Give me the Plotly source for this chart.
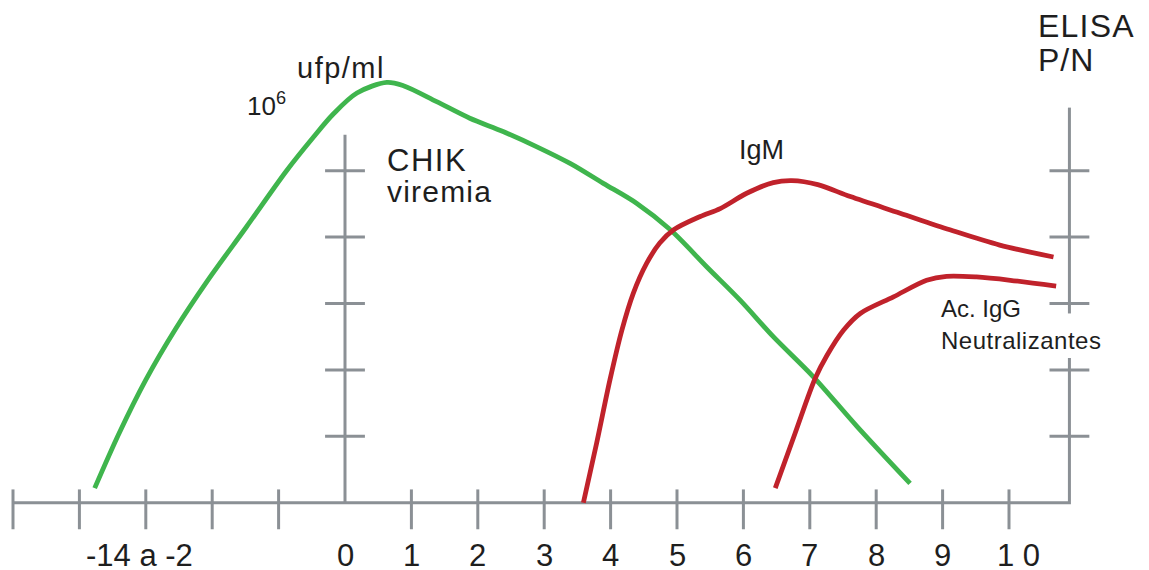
import plotly.graph_objects as go

# ---------------- data ----------------
viremia_x = [-3.77, -3.40, -3.00, -2.55, -2.08, -1.48, -0.88, -0.48, -0.18, 0.18, 0.63, 0.88,
             1.38, 1.88, 2.38, 2.89, 3.39, 3.89, 4.39, 4.90, 5.45, 5.95, 6.45, 7.05, 7.71, 8.51]
viremia_y = [0.22, 1.05, 1.85, 2.62, 3.33, 4.16, 5.00, 5.50, 5.85, 6.17, 6.33, 6.28,
             6.04, 5.79, 5.59, 5.36, 5.11, 4.81, 4.51, 4.11, 3.55, 3.05, 2.50, 1.90, 1.15, 0.29]

igm_x = [3.59, 3.79, 3.99, 4.17, 4.34, 4.54, 4.74, 4.95, 5.35, 5.65, 6.05, 6.45, 6.73,
         7.12, 7.61, 8.36, 9.11, 9.86, 10.67]
igm_y = [0.00, 0.90, 1.85, 2.60, 3.15, 3.60, 3.91, 4.11, 4.31, 4.43, 4.66, 4.82, 4.85,
         4.79, 4.61, 4.36, 4.11, 3.88, 3.70]

igg_x = [6.48, 6.78, 7.08, 7.26, 7.51, 7.76, 8.26, 8.76, 9.06, 9.51, 10.02, 10.71]
igg_y = [0.22, 1.05, 1.87, 2.22, 2.60, 2.85, 3.10, 3.35, 3.41, 3.40, 3.35, 3.26]

x_ticks = [-5, -4, -3, -2, -1, 1, 2, 3, 4, 5, 6, 7, 8, 9, 10]
x_tick_labels = ["-14 a -2", "0", "1", "2", "3", "4", "5", "6", "7", "8", "9", "1 0"]
x_tick_label_pos = [-3.1, 0, 1, 2, 3, 4, 5, 6, 7, 8, 9, 10.15]
y_ticks = [1, 2, 3, 4, 5]

# ---------------- styling / geometry ----------------
GRAY = "#8b9095"
GREEN = "#3fb54d"
RED = "#c0222b"
TXT = "#1e1e1e"
FONT = "Liberation Sans, Arial, sans-serif"

X_MIN, X_END = -5.0, 10.91
LEFT_TOP, RIGHT_TOP = 5.54, 5.95
GAP_LO, GAP_HI = 2.18, 2.85
TICK_UP, TICK_DN, TICK_HALF = 0.20, 0.40, 0.30

# page offset of the plot inside the browser window (body margin)
PAGE_OFF = 8
PX_PER_UNIT = 66.4
X0_PX, Y0_PX = 345.0, 502.7
W, H = 1149, 570

fig = go.Figure()

# axes frame built from the tick arrays
ax_x, ax_y = [], []
ax_x += [X_MIN, X_END, X_END, None]; ax_y += [0, 0, GAP_LO, None]
ax_x += [X_END, X_END, None];        ax_y += [GAP_HI, RIGHT_TOP, None]
ax_x += [0, 0, None];                ax_y += [0, LEFT_TOP, None]
for t in x_ticks:
    ax_x += [t, t, None]; ax_y += [TICK_UP, -TICK_DN, None]
for v in y_ticks:
    ax_x += [-TICK_HALF, TICK_HALF, None]; ax_y += [v, v, None]
    ax_x += [X_END - TICK_HALF, X_END + TICK_HALF, None]; ax_y += [v, v, None]

fig.add_trace(go.Scatter(x=ax_x, y=ax_y, mode="lines",
                         line=dict(color=GRAY, width=3), hoverinfo="skip",
                         showlegend=False))

for xs, ys, col in [(viremia_x, viremia_y, GREEN), (igm_x, igm_y, RED), (igg_x, igg_y, RED)]:
    fig.add_trace(go.Scatter(x=xs, y=ys, mode="lines",
                             line=dict(color=col, width=4.8, shape="spline", smoothing=0.9),
                             showlegend=False, hoverinfo="skip"))

annotations = []
for lab, pos in zip(x_tick_labels, x_tick_label_pos):
    annotations.append(dict(x=pos, y=-0.80, text=lab, xanchor="center", yanchor="middle",
                            showarrow=False, font=dict(size=31, color=TXT, family=FONT)))

def label(text, x, y, size, spacing=0):
    if spacing:
        text = '<span style="letter-spacing:%spx">%s</span>' % (spacing, text)
    annotations.append(dict(x=x, y=y, text=text, xanchor="left", yanchor="middle",
                            showarrow=False, font=dict(size=size, color=TXT, family=FONT)))

label("ufp/ml", -0.76, 6.55, 29, 1.5)
label("10<sup>6</sup>", -1.51, 5.99, 26)
label("CHIK", 0.60, 5.15, 31, 1.5)
label("viremia", 0.60, 4.68, 30, 1.2)
label("IgM", 5.91, 5.31, 27)
label("Ac. IgG", 8.95, 2.92, 24)
label("Neutralizantes", 8.95, 2.45, 24, 0.5)
label("ELISA", 10.40, 7.18, 32, 1.2)
label("P/N", 10.40, 6.66, 32, 1.0)

fig.update_layout(
    width=W, height=H,
    margin=dict(l=0, r=0, t=0, b=0),
    paper_bgcolor="white", plot_bgcolor="white",
    xaxis=dict(range=[(PAGE_OFF - X0_PX) / PX_PER_UNIT, (W + PAGE_OFF - X0_PX) / PX_PER_UNIT],
               visible=False, fixedrange=True),
    yaxis=dict(range=[(Y0_PX - H - PAGE_OFF) / PX_PER_UNIT, (Y0_PX - PAGE_OFF) / PX_PER_UNIT],
               visible=False, fixedrange=True),
    annotations=annotations,
    showlegend=False,
)

fig.write_html("out.html")
